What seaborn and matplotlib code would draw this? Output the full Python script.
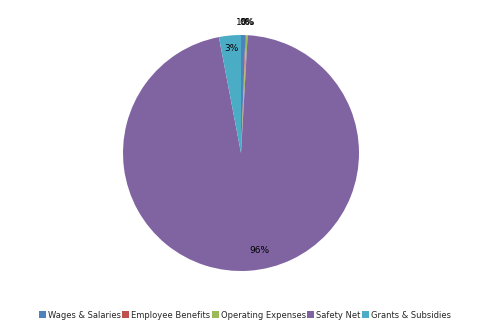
import matplotlib
matplotlib.use("Agg")
import matplotlib.pyplot as plt
from matplotlib.patches import Patch
import seaborn as sns
import numpy as np

categories = ["Wages & Salaries", "Employee Benefits", "Operating Expenses", "Safety Net", "Grants & Subsidies"]
values = [0.6, 0.1, 0.2, 96.1, 3.0]
pct_labels = ["1%", "0%", "0%", "96%", "3%"]
colors = ["#4F81BD", "#C0504D", "#9BBB59", "#8064A2", "#4BACC6"]

sns.set_theme(style="white")
plt.rcParams['font.family'] = ['DejaVu Sans']

fig = plt.figure(figsize=(4.82, 3.35), dpi=100)
ax = fig.add_axes([123/482, 1 - 271/335, 236/482, 236/335])
wedges, _ = ax.pie(values, colors=colors, startangle=90, counterclock=False,
                   radius=1.0, wedgeprops=dict(linewidth=0))
ax.set_xlim(-1, 1)
ax.set_ylim(-1, 1)
ax.set_aspect("equal")
ax.axis("off")

for w, lab, v in zip(wedges, pct_labels, values):
    ang = np.deg2rad((w.theta1 + w.theta2) / 2)
    if v < 1:
        r = 1.11
    elif v > 50:
        r = 0.83
    else:
        r = 0.89
    x, y = r * np.cos(ang), r * np.sin(ang)
    if v > 50:
        x += 0.1
    ax.text(x, y, lab, ha="center", va="center", fontsize=6.5, color="#000000")

handles = [Patch(facecolor=c, edgecolor="none") for c in colors]
fig.legend(handles, categories, loc="center", bbox_to_anchor=(245/482, 1 - 315/335),
           ncol=5, frameon=False, fontsize=6, handlelength=0.8, handleheight=0.8,
           handletextpad=0.25, columnspacing=0.2, borderpad=0,
           prop=dict(size=6))

fig.savefig("out.png", dpi=100)
